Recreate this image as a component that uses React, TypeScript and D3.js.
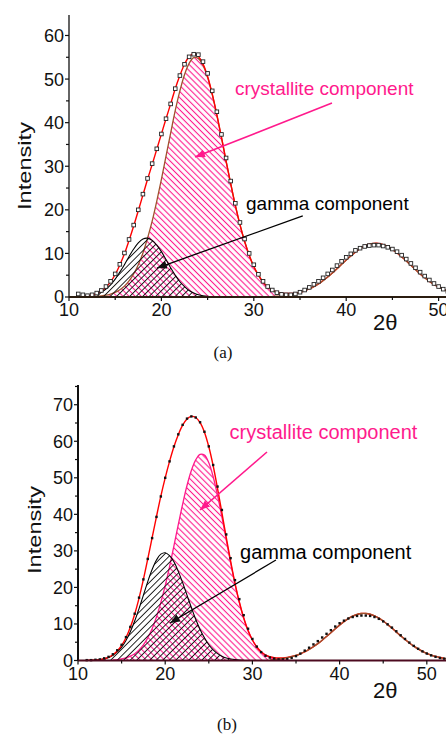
import * as d3 from 'd3';

const STEP = 0.5;
const PINK = '#ff1a8c';
const BROWN = '#a0522d';
const RED = '#ff0000';

// ---- panel (a) ----
const A_DATA_START = 11;
const aData = [0.7, 0.5, 0.3, 0.5, 0.9, 1.5, 2.4, 3.6, 5.3, 7.5, 10.1, 13.2, 16.5, 20.0, 23.6, 27.2, 30.6, 34.0, 37.4, 40.9, 44.3, 47.8, 50.8, 53.4, 55.1, 55.7, 55.6, 54.0, 51.3, 47.3, 42.5, 37.3, 31.9, 26.6, 21.5, 17.1, 13.3, 10.0, 7.4, 5.2, 3.6, 2.4, 1.6, 1.0, 0.6, 0.5, 0.5, 0.7, 1.1, 1.6, 2.2, 2.9, 3.6, 4.4, 5.3, 6.2, 7.2, 8.2, 9.1, 9.9, 10.7, 11.2, 11.6, 11.8, 11.9, 11.9, 11.7, 11.4, 11.0, 10.4, 9.6, 8.7, 7.7, 6.7, 5.7, 4.8, 3.9, 3.1, 2.4, 1.8, 1.3];
const A_FIT_START = 11;
const aFit = [0.07, 0.12, 0.24, 0.45, 0.8, 1.38, 2.24, 3.48, 5.17, 7.36, 9.9, 13.0, 16.3, 19.8, 23.4, 27.0, 30.4, 33.9, 37.4, 40.9, 44.3, 47.8, 50.8, 53.4, 55.1, 55.8, 55.2, 53.5, 50.6, 46.6, 41.8, 36.6, 31.2, 26.0, 21.0, 16.6, 12.8, 9.6, 7.0, 5.0, 3.4, 2.3, 1.6, 1.2, 0.9, 0.8, 0.8, 0.9, 1.1, 1.4, 1.9, 2.4, 3.0, 3.8, 4.6, 5.5, 6.5, 7.5, 8.5, 9.4, 10.3, 11.1, 11.7, 12.1, 12.3, 12.3, 12.0, 11.6, 10.9, 10.1, 9.2, 8.3, 7.3, 6.3, 5.3, 4.4, 3.6, 2.9, 2.3, 1.8, 1.3];
const A_CRYST_START = 12;
const aCryst = [0.04, 0.08, 0.14, 0.25, 0.41, 0.68, 1.07, 1.66, 2.5, 3.7, 5.3, 7.4, 10.1, 13.5, 17.4, 22.0, 27.0, 32.3, 37.6, 42.8, 47.3, 51.0, 53.6, 54.9, 54.7, 53.2, 50.4, 46.5, 41.8, 36.6, 31.2, 26.0, 21.0, 16.6, 12.8, 9.6, 7.0, 5.0, 3.4, 2.3, 1.5, 1.0, 0.6, 0.37, 0.22, 0.12, 0.07];
const A_GAMMA_START = 11;
const aGamma = [0.05, 0.1, 0.2, 0.37, 0.66, 1.13, 1.83, 2.8, 4.1, 5.7, 7.4, 9.3, 11.0, 12.4, 13.3, 13.5, 13.0, 11.9, 10.4, 8.6, 6.7, 5.0, 3.5, 2.4, 1.5, 0.92, 0.53, 0.29, 0.15, 0.07];
const A_THIRD_START = 32;
const aThird = [0.13, 0.19, 0.28, 0.4, 0.56, 0.77, 1.06, 1.41, 1.85, 2.38, 3.02, 3.75, 4.58, 5.49, 6.46, 7.46, 8.46, 9.43, 10.3, 11.07, 11.67, 12.08, 12.28, 12.26, 12.02, 11.56, 10.93, 10.14, 9.24, 8.26, 7.26, 6.26, 5.3, 4.41, 3.6, 2.89, 2.28, 1.76, 1.33];
const aYTicks = [0, 10, 20, 30, 40, 50, 60];
const aYMinor = [5, 15, 25, 35, 45, 55];

// ---- panel (b) ----
const B_DATA_START = 11;
const bData = [0.1, 0.1, 0.2, 0.3, 0.6, 1.0, 1.7, 2.8, 4.3, 6.4, 9.2, 12.8, 17.2, 22.2, 27.8, 33.5, 39.3, 44.9, 50.0, 54.5, 58.6, 61.9, 64.5, 66.2, 66.8, 66.5, 65.2, 62.6, 58.6, 53.5, 47.6, 41.2, 34.5, 28.0, 22.0, 16.8, 12.4, 8.7, 5.9, 3.8, 2.3, 1.3, 0.8, 0.5, 0.3, 0.3, 0.4, 0.7, 1.2, 1.9, 2.7, 3.5, 4.4, 5.3, 6.3, 7.3, 8.3, 9.3, 10.2, 10.9, 11.5, 11.9, 12.2, 12.3, 12.3, 12.2, 11.9, 11.4, 10.7, 9.9, 9.0, 8.0, 6.9, 5.9, 4.9, 4.0, 3.2, 2.5, 1.9, 1.4, 1.0, 0.7, 0.5];
const B_FIT_START = 11;
const bFit = [0.03, 0.06, 0.13, 0.25, 0.47, 0.84, 1.58, 2.6, 4.11, 6.22, 9.07, 12.67, 17.07, 22.18, 27.8, 33.6, 39.4, 45.0, 50.0, 54.5, 58.5, 61.8, 64.4, 66.1, 66.8, 66.5, 65.1, 62.5, 58.5, 53.3, 47.1, 40.5, 33.7, 27.2, 21.2, 16.0, 11.7, 8.2, 5.6, 3.7, 2.37, 1.46, 1.05, 0.77, 0.67, 0.7, 0.84, 1.08, 1.39, 1.84, 2.39, 3.03, 3.78, 4.62, 5.56, 6.57, 7.61, 8.67, 9.69, 10.63, 11.46, 12.13, 12.6, 12.86, 12.88, 12.67, 12.24, 11.61, 10.81, 9.88, 8.88, 7.83, 6.77, 5.75, 4.8, 3.93, 3.17, 2.5, 1.95, 1.48, 1.11, 0.81, 0.59];
const B_CRYST_START = 14;
const bCryst = [0.14, 0.25, 0.44, 0.73, 1.19, 1.87, 2.87, 4.28, 6.2, 8.7, 11.9, 15.9, 20.5, 25.7, 31.4, 37.2, 42.8, 47.9, 52.0, 54.9, 56.4, 56.2, 54.1, 50.3, 45.2, 39.3, 33.0, 26.8, 21.0, 15.9, 11.6, 8.2, 5.6, 3.7, 2.37, 1.46, 0.87, 0.5, 0.28, 0.15, 0.08];
const B_GAMMA_START = 11;
const bGamma = [0.03, 0.06, 0.13, 0.25, 0.47, 0.84, 1.44, 2.35, 3.67, 5.49, 7.88, 10.8, 14.2, 17.9, 21.6, 24.9, 27.5, 29.1, 29.5, 28.7, 27.0, 24.4, 21.3, 17.9, 14.5, 11.3, 8.5, 6.2, 4.3, 2.9, 1.88, 1.18, 0.71, 0.41, 0.23, 0.13, 0.07];
const B_THIRD_START = 32;
const bThird = [0.18, 0.27, 0.39, 0.55, 0.76, 1.04, 1.39, 1.84, 2.39, 3.03, 3.78, 4.62, 5.56, 6.57, 7.61, 8.67, 9.69, 10.63, 11.46, 12.13, 12.6, 12.86, 12.88, 12.67, 12.24, 11.61, 10.81, 9.88, 8.88, 7.83, 6.77, 5.75, 4.8, 3.93, 3.17, 2.5, 1.95, 1.48, 1.11, 0.81, 0.59, 0.42];
const bYTicks = [0, 10, 20, 30, 40, 50, 60, 70];
const bYMinor = [5, 15, 25, 35, 45, 55, 65, 75];

const xTicks = [10, 20, 30, 40, 50];
const xMinor = [15, 25, 35, 45];

type Pt = [number, number];
const pts = (start: number, vals: number[]): Pt[] => vals.map((v, i) => [start + i * STEP, v]);

interface Note { text: string; at: Pt; from: Pt; to: Pt; color: string; size: number }

interface PanelCfg {
  xDomain: [number, number];
  yDomain: [number, number];
  left: number;
  top: number;
  bottom: number;
  data: Pt[];
  fit: Pt[];
  cryst: Pt[];
  gamma: Pt[];
  third: Pt[];
  yTicks: number[];
  yMinor: number[];
  crystStroke: string;
  axisColor: string;
  openMarkers: boolean;
  notes: Note[];
  intensity: [number, number];
  theta: [number, number];
  caption: string;
  captionAt: [number, number];
}

const panels: PanelCfg[] = [
  {
    xDomain: [10, 50.8], yDomain: [0, 64.7], left: 69, top: 15, bottom: 297,
    data: pts(A_DATA_START, aData), fit: pts(A_FIT_START, aFit), cryst: pts(A_CRYST_START, aCryst),
    gamma: pts(A_GAMMA_START, aGamma), third: pts(A_THIRD_START, aThird),
    yTicks: aYTicks, yMinor: aYMinor, crystStroke: BROWN, axisColor: '#2b1d10', openMarkers: true,
    notes: [
      { text: 'crystallite component', at: [27.97, 46.3], from: [38.46, 44.5], to: [23.64, 32.1], color: PINK, size: 19 },
      { text: 'gamma component', at: [29.16, 19.95], from: [35.3, 18.6], to: [19.52, 6.65], color: '#000', size: 19 },
    ],
    intensity: [31, 166], theta: [373, 330], caption: '(a)', captionAt: [223, 358],
  },
  {
    xDomain: [10, 52.2], yDomain: [0, 75.4], left: 78, top: 385, bottom: 660.5,
    data: pts(B_DATA_START, bData), fit: pts(B_FIT_START, bFit), cryst: pts(B_CRYST_START, bCryst),
    gamma: pts(B_GAMMA_START, bGamma), third: pts(B_THIRD_START, bThird),
    yTicks: bYTicks, yMinor: bYMinor, crystStroke: PINK, axisColor: '#4d0a1f', openMarkers: false,
    notes: [
      { text: 'crystallite component', at: [27.37, 60.6], from: [31.67, 57.06], to: [23.99, 41.19], color: PINK, size: 20 },
      { text: 'gamma component', at: [28.58, 27.8], from: [32.7, 27.5], to: [20.55, 10.26], color: '#000', size: 20 },
    ],
    intensity: [41, 530], theta: [373, 698], caption: '(b)', captionAt: [227, 730],
  },
];

const SANS = '"Liberation Sans", Arial, sans-serif';
const SERIF = '"Liberation Serif", "Times New Roman", serif';

function Panel({ cfg, idx }: { cfg: PanelCfg; idx: number }) {
  const x = d3.scaleLinear().domain(cfg.xDomain).range([cfg.left, 446]);
  const y = d3.scaleLinear().domain(cfg.yDomain).range([cfg.bottom, cfg.top]);
  const curve = d3.curveCatmullRom.alpha(0.5);
  const line = d3.line<Pt>().x(d => x(d[0])).y(d => y(d[1])).curve(curve);
  const area = d3.area<Pt>().x(d => x(d[0])).y0(y(0)).y1(d => y(d[1])).curve(curve);
  const y0 = y(0);
  const ax = cfg.left;

  return (
    <g>
      {/* components */}
      <path d={area(cfg.cryst) || ''} fill="url(#pinkHatch)" />
      <path d={line(cfg.cryst) || ''} fill="none" stroke={cfg.crystStroke} strokeWidth={1.3} />
      <path d={area(cfg.gamma) || ''} fill="url(#blackHatch)" />
      <path d={line(cfg.gamma) || ''} fill="none" stroke="#000" strokeWidth={1.1} />
      <path d={line(cfg.fit) || ''} fill="none" stroke={RED} strokeWidth={1.4} />
      <path d={line(cfg.third) || ''} fill="none" stroke={BROWN} strokeWidth={1.3} />

      {/* data points */}
      {cfg.data.map((d, i) =>
        cfg.openMarkers ? (
          <rect key={i} x={x(d[0]) - 1.8} y={y(d[1]) - 1.8} width={3.6} height={3.6} fill="#fff" stroke="#222" strokeWidth={0.9} />
        ) : (
          <rect key={i} x={x(d[0]) - 1.2} y={y(d[1]) - 1.2} width={2.4} height={2.4} fill="#111" />
        )
      )}

      {/* axes */}
      <line x1={ax} x2={ax} y1={cfg.top} y2={y0} stroke="#111" strokeWidth={idx === 0 ? 1.3 : 2} />
      {cfg.yTicks.map(t => (
        <g key={'yt' + t}>
          <line x1={ax - 4} x2={ax} y1={y(t)} y2={y(t)} stroke="#111" strokeWidth={1.2} />
          <text x={ax - 5} y={y(t)} dy="0.36em" textAnchor="end" fontFamily={SANS} fontSize={18} fill="#111">{t}</text>
        </g>
      ))}
      {cfg.yMinor.map(t => (
        <line key={'ym' + t} x1={ax - 3} x2={ax} y1={y(t)} y2={y(t)} stroke="#111" strokeWidth={1.2} />
      ))}
      <line x1={ax} x2={446} y1={y0} y2={y0} stroke={cfg.axisColor} strokeWidth={2.2} />
      {xTicks.map(t => (
        <g key={'xt' + t}>
          <line x1={x(t)} x2={x(t)} y1={y0} y2={y0 + 4} stroke="#111" strokeWidth={1.2} />
          <text x={x(t)} y={y0 + 19} textAnchor="middle" fontFamily={SANS} fontSize={18} fill="#111">{t}</text>
        </g>
      ))}
      {xMinor.map(t => (
        <line key={'xm' + t} x1={x(t)} x2={x(t)} y1={y0} y2={y0 + 3} stroke="#111" strokeWidth={1.2} />
      ))}

      {/* annotations */}
      {cfg.notes.map((n, i) => (
        <g key={'n' + i}>
          <text x={x(n.at[0])} y={y(n.at[1])} fontFamily={SANS} fontSize={n.size} fill={n.color}>{n.text}</text>
          <line x1={x(n.from[0])} y1={y(n.from[1])} x2={x(n.to[0])} y2={y(n.to[1])}
            stroke={n.color} strokeWidth={n.color === PINK ? 1.6 : 1.3}
            markerEnd={n.color === PINK ? 'url(#arrowPink)' : 'url(#arrowBlack)'} />
        </g>
      ))}

      {/* labels */}
      <text transform={`translate(${cfg.intensity[0]},${cfg.intensity[1]}) rotate(-90)`} textAnchor="middle"
        fontFamily={SANS} fontSize={19} fill="#111" textLength={88} lengthAdjust="spacingAndGlyphs">Intensity</text>
      <text x={cfg.theta[0]} y={cfg.theta[1]} fontFamily={SANS} fontSize={22} fill="#111">2θ</text>
      <text x={cfg.captionAt[0]} y={cfg.captionAt[1]} textAnchor="middle" fontFamily={SERIF} fontSize={17} fill="#111">{cfg.caption}</text>
    </g>
  );
}

export default function App() {
  return (
    <svg width={446} height={736} viewBox="0 0 446 736"
      style={{ position: 'absolute', left: 0, top: 0, background: '#fff' }}>
      <defs>
        <pattern id="pinkHatch" patternUnits="userSpaceOnUse" width={4.3} height={4.3} patternTransform="rotate(-45)">
          <line x1={2.15} y1={-1} x2={2.15} y2={6} stroke={PINK} strokeWidth={1.1} />
        </pattern>
        <pattern id="blackHatch" patternUnits="userSpaceOnUse" width={4.6} height={4.6} patternTransform="rotate(45)">
          <line x1={2.3} y1={-1} x2={2.3} y2={6} stroke="#111" strokeWidth={0.9} />
        </pattern>
        <marker id="arrowPink" markerUnits="userSpaceOnUse" markerWidth={12} markerHeight={10} refX={10} refY={4}
          orient="auto">
          <path d="M0,0 L10,4 L0,8 Z" fill={PINK} />
        </marker>
        <marker id="arrowBlack" markerUnits="userSpaceOnUse" markerWidth={12} markerHeight={10} refX={10} refY={4}
          orient="auto">
          <path d="M0,0 L10,4 L0,8 Z" fill="#111" />
        </marker>
      </defs>
      {panels.map((p, i) => <Panel key={i} cfg={p} idx={i} />)}
    </svg>
  );
}
